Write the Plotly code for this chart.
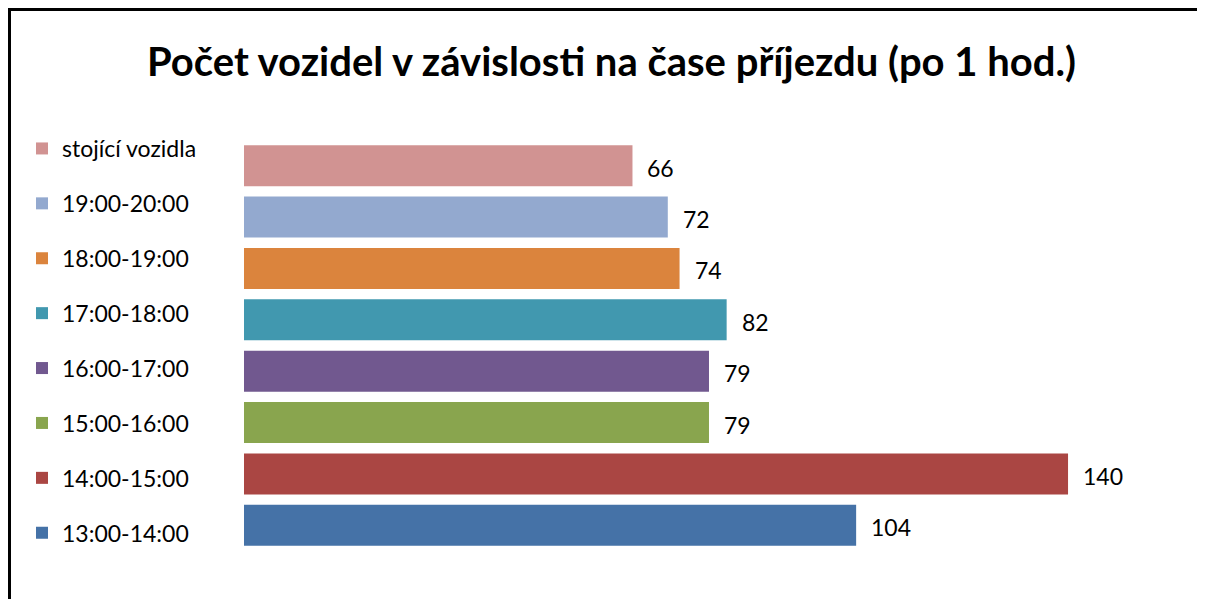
import plotly.graph_objects as go

categories = ["stojící vozidla", "19:00-20:00", "18:00-19:00", "17:00-18:00",
              "16:00-17:00", "15:00-16:00", "14:00-15:00", "13:00-14:00"]
values = [66, 72, 74, 82, 79, 79, 140, 104]
colors = ["#D19392", "#93A9CF", "#DB843D", "#4198AF",
          "#71588F", "#89A54E", "#AA4643", "#4572A7"]
title_text = "Počet vozidel v závislosti na čase příjezdu (po 1 hod.)"

FONT = "Lato, Carlito, Calibri, sans-serif"
OFF = 8  # page body margin

fig = go.Figure()
for cat, val, col in zip(categories, values, colors):
    fig.add_trace(go.Bar(
        x=[val], y=[cat], orientation="h", name=cat,
        marker=dict(color=col, line=dict(width=0)),
        width=0.8, legendgroup=cat, showlegend=True,
        hoverinfo="x+name",
    ))
    fig.add_annotation(
        x=val, y=cat, xref="x", yref="y", text=str(val),
        showarrow=False, xanchor="left", yanchor="middle",
        xshift=13, yshift=-2,
        font=dict(family=FONT, size=23, color="#000000"),
    )

W, H = 1205, 599
L, R, T, B = 244 - OFF, 25, 140 - OFF, 48 + OFF
pw = W - L - R
ph = H - T - B

def px_to_paper_x(px):
    return (px - OFF - L) / pw

def px_to_paper_y(py):
    return 1 - (py - OFF - T) / ph

fig.add_shape(type="rect", xref="paper", yref="paper",
              x0=px_to_paper_x(9.5), x1=px_to_paper_x(1240),
              y0=px_to_paper_y(650), y1=px_to_paper_y(9.5),
              line=dict(color="#000000", width=3), fillcolor="rgba(0,0,0,0)",
              layer="below")

fig.update_layout(
    width=W, height=H,
    margin=dict(l=L, r=R, t=T, b=B, pad=0),
    paper_bgcolor="white", plot_bgcolor="white",
    barmode="overlay",
    title=dict(text="<b>" + title_text + "</b>", x=(611.5 - OFF) / W,
               xref="container", xanchor="center",
               y=1 - (62 - OFF) / H, yref="container", yanchor="middle",
               font=dict(family=FONT, size=40, color="#000000")),
    xaxis=dict(range=[0, pw / 5.886], visible=False, fixedrange=True),
    yaxis=dict(visible=False, autorange="reversed", categoryorder="array",
               categoryarray=categories),
    legend=dict(x=px_to_paper_x(22), xanchor="left",
                y=px_to_paper_y(127), yanchor="top",
                traceorder="grouped", tracegroupgap=22,
                maxheight=560,
                font=dict(family=FONT, size=23, color="#000000"),
                bgcolor="rgba(0,0,0,0)", itemwidth=30),
    font=dict(family=FONT),
    showlegend=True,
)

fig.write_html("out.html")
